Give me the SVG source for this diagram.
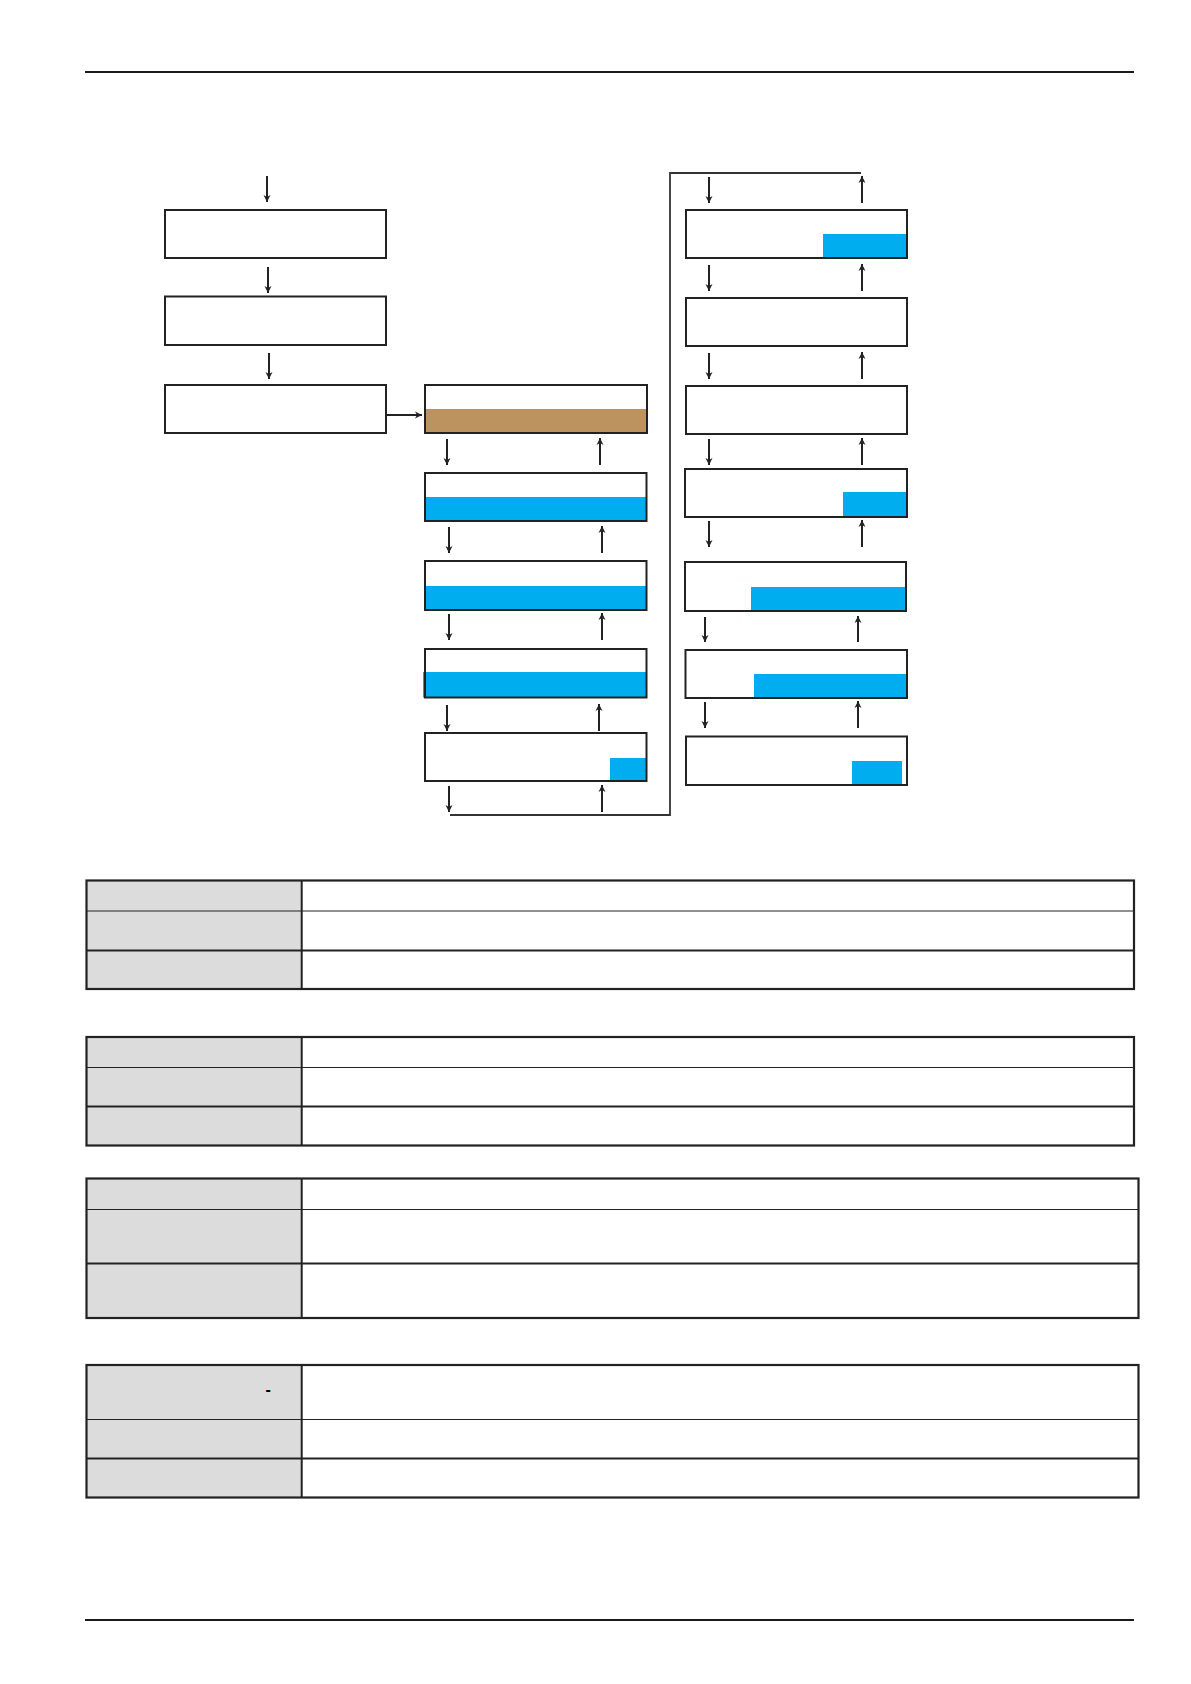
<svg xmlns="http://www.w3.org/2000/svg" width="1191" height="1684" viewBox="0 0 1191 1684">
<style>
.box{fill:none;stroke:#222;stroke-width:2}
.blue{fill:#00AEEF}
.brown{fill:#BC935F}
.arr{stroke:#222;stroke-width:2;fill:none;marker-end:url(#ah)}
.ln{stroke:#333;stroke-width:1.8;fill:none}
.rule{stroke:#1a1a1a;stroke-width:2}
.hd{fill:#DCDCDC}
.tb{fill:none;stroke:#222;stroke-width:2.2}
.thin{stroke:#222;stroke-width:1.2}
.thick{stroke:#222;stroke-width:2}
.txt{font-family:"Liberation Sans",Arial,sans-serif;font-size:16px;font-weight:bold;fill:#000}
</style>
<defs>
<marker id="ah" markerUnits="userSpaceOnUse" markerWidth="10" markerHeight="10" refX="7" refY="5" orient="auto">
<path d="M0,1.5 L7,5 L0,8.5 L2,5 Z" fill="#222"/>
</marker>
</defs>
<rect width="1191" height="1684" fill="#fff"/>
<line class="rule" x1="85" y1="72" x2="1134" y2="72"/>
<line class="rule" x1="85" y1="1620" x2="1134" y2="1620"/>

<g id="left-1"><rect class="box" x="165" y="210" width="221" height="48"/></g>
<g id="left-2"><rect class="box" x="165" y="296.5" width="221" height="48.5"/></g>
<g id="left-3"><rect class="box" x="165" y="385" width="221" height="48"/></g>

<g id="mid-1"><rect class="brown" x="425" y="409" width="222" height="24"/><rect class="box" x="425" y="385" width="222" height="48"/></g>
<g id="mid-2"><rect class="blue" x="425" y="497" width="221.5" height="24"/><rect class="box" x="425" y="473" width="221.5" height="48"/></g>
<g id="mid-3"><rect class="blue" x="425" y="586" width="221.5" height="24"/><rect class="box" x="425" y="561" width="221.5" height="49"/></g>
<g id="mid-4"><rect class="blue" x="423" y="672" width="223.5" height="25.5"/><rect class="box" x="425" y="649" width="221.5" height="48.5"/></g>
<g id="mid-5"><rect class="blue" x="610" y="758" width="36.5" height="23"/><rect class="box" x="425" y="733" width="221.5" height="48"/></g>

<g id="right-1"><rect class="blue" x="823" y="234" width="84" height="24"/><rect class="box" x="686" y="210" width="221" height="48"/></g>
<g id="right-2"><rect class="box" x="686" y="298" width="221" height="48"/></g>
<g id="right-3"><rect class="box" x="686" y="386" width="221" height="48"/></g>
<g id="right-4"><rect class="blue" x="843" y="492" width="64" height="25"/><rect class="box" x="685" y="469" width="222" height="48"/></g>
<g id="right-5"><rect class="blue" x="751" y="587" width="155" height="24"/><rect class="box" x="685" y="562" width="221" height="49"/></g>
<g id="right-6"><rect class="blue" x="754" y="674" width="153" height="24"/><rect class="box" x="685.5" y="650" width="221.5" height="48"/></g>
<g id="right-7"><rect class="blue" x="852" y="761" width="50" height="23.5"/><rect class="box" x="686" y="736.5" width="221" height="48.5"/></g>

<g id="connectors">
<line class="arr" x1="267" y1="176" x2="267" y2="202"/>
<line class="arr" x1="268" y1="267" x2="268" y2="293"/>
<line class="arr" x1="269" y1="353" x2="269" y2="379"/>
<line class="arr" x1="386" y1="415" x2="422" y2="415"/>

<line class="arr" x1="447" y1="439" x2="447" y2="465"/>
<line class="arr" x1="600" y1="465" x2="600" y2="438"/>
<line class="arr" x1="449" y1="527" x2="449" y2="553"/>
<line class="arr" x1="602" y1="553" x2="602" y2="526"/>
<line class="arr" x1="449" y1="614" x2="449" y2="640"/>
<line class="arr" x1="602" y1="640" x2="602" y2="613"/>
<line class="arr" x1="447" y1="705" x2="447" y2="731"/>
<line class="arr" x1="599" y1="731" x2="599" y2="704"/>
<line class="arr" x1="449" y1="786" x2="449" y2="812"/>
<line class="arr" x1="602" y1="812" x2="602" y2="785"/>
<polyline class="ln" points="450,815 670,815 670,173 861,173"/>

<line class="arr" x1="709" y1="177" x2="709" y2="203"/>
<line class="arr" x1="862" y1="203" x2="862" y2="176"/>
<line class="arr" x1="709" y1="265" x2="709" y2="291"/>
<line class="arr" x1="862" y1="291" x2="862" y2="264"/>
<line class="arr" x1="709" y1="353" x2="709" y2="379"/>
<line class="arr" x1="862" y1="379" x2="862" y2="352"/>
<line class="arr" x1="709" y1="439" x2="709" y2="465"/>
<line class="arr" x1="862" y1="465" x2="862" y2="438"/>
<line class="arr" x1="709" y1="521" x2="709" y2="547"/>
<line class="arr" x1="862" y1="547" x2="862" y2="520"/>
<line class="arr" x1="705" y1="617" x2="705" y2="642"/>
<line class="arr" x1="858" y1="642" x2="858" y2="616"/>
<line class="arr" x1="705" y1="702" x2="705" y2="728"/>
<line class="arr" x1="858" y1="728" x2="858" y2="701"/>
</g>

<g id="table-1">
<rect class="hd" x="86.5" y="880.5" width="215" height="108.5"/>
<line class="thin" x1="86.5" y1="911" x2="1134" y2="911"/>
<line class="thick" x1="86.5" y1="950.5" x2="1134" y2="950.5"/>
<line class="thick" x1="301.7" y1="880.5" x2="301.7" y2="989"/>
<rect class="tb" x="86.5" y="880.5" width="1047.5" height="108.5"/>
</g>
<g id="table-2">
<rect class="hd" x="86.5" y="1037" width="215" height="108.5"/>
<line class="thin" x1="86.5" y1="1067.5" x2="1134" y2="1067.5"/>
<line class="thick" x1="86.5" y1="1106.5" x2="1134" y2="1106.5"/>
<line class="thick" x1="301.7" y1="1037" x2="301.7" y2="1145.5"/>
<rect class="tb" x="86.5" y="1037" width="1047.5" height="108.5"/>
</g>
<g id="table-3">
<rect class="hd" x="86.5" y="1178.5" width="215" height="139.5"/>
<line class="thin" x1="86.5" y1="1209.5" x2="1138.5" y2="1209.5"/>
<line class="thick" x1="86.5" y1="1263.5" x2="1138.5" y2="1263.5"/>
<line class="thick" x1="301.7" y1="1178.5" x2="301.7" y2="1318"/>
<rect class="tb" x="86.5" y="1178.5" width="1052" height="139.5"/>
</g>
<g id="table-4">
<rect class="hd" x="86.5" y="1365" width="215" height="132.5"/>
<line class="thin" x1="86.5" y1="1419.5" x2="1138.5" y2="1419.5"/>
<line class="thick" x1="86.5" y1="1458.5" x2="1138.5" y2="1458.5"/>
<line class="thick" x1="301.7" y1="1365" x2="301.7" y2="1497.5"/>
<rect class="tb" x="86.5" y="1365" width="1052" height="132.5"/>
<text class="txt" x="265.5" y="1394.5">-</text>
</g>
</svg>
